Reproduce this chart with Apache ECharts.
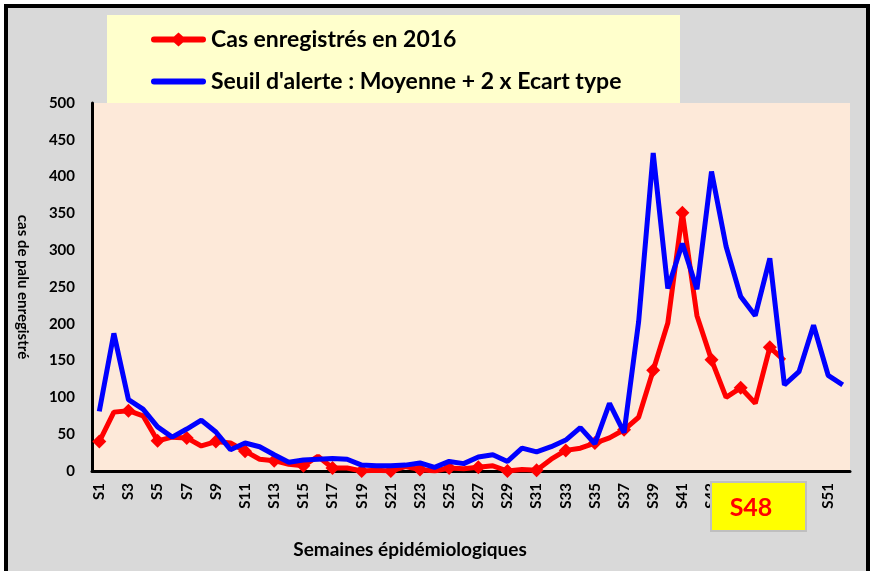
<!DOCTYPE html>
<html>
<head>
<meta charset="utf-8">
<script src="https://cdn.jsdelivr.net/npm/echarts@6/dist/echarts.min.js"></script>
<style>
  html, body { margin: 0; padding: 0; background: #ffffff; }
  #frame { position: absolute; left: 4px; top: 4px; width: 858px; height: 600px; border: 4px solid #000; background: #d9d9d9; }
  #chart { position: absolute; left: 0; top: 0; width: 870px; height: 571px; }
</style>
</head>
<body>
<div id="frame"></div>
<div id="chart"></div>
<script>
const weeks = Array.from({length: 52}, (_, i) => 'S' + (i + 1));
const cas2016 = [40, 80, 82, 75, 41, 46, 45, 34, 40, 38, 27, 16, 14, 9, 7, 20, 4, 4, 0, 1,
  0, 6, 2, 0, 4, 3, 5, 7, 0, 2, 1, 16, 28, 31, 38, 45, 56, 73, 137, 201,
  351, 211, 151, 100, 113, 92, 168, 150, null, null, null, null];
const seuil = [81, 187, 97, 84, 60, 46, 57, 69, 53, 29, 38, 33, 22, 12, 15, 16, 17, 16, 8, 7,
  7, 8, 11, 5, 13, 10, 19, 22, 13, 31, 26, 33, 42, 59, 37, 92, 52, 203, 432, 248,
  309, 247, 407, 305, 237, 211, 289, 117, 135, 198, 130, 117];
const seriesNames = ['Cas enregistrés en 2016', "Seuil d'alerte : Moyenne + 2 x Ecart type"];
const currentWeek = 'S48';

const FONT = 'Lato, "Open Sans", sans-serif';
const redIcon = 'path://M3,4 L23,4 L27.5,0 L32,4 L52,4 A3,3 0 0 1 52,10 L32,10 L27.5,14 L23,10 L3,10 A3,3 0 0 1 3,4 Z';
const blueIcon = 'path://M3,0 L52,0 A3,3 0 0 1 52,6 L3,6 A3,3 0 0 1 3,0 Z';

const chart = echarts.init(document.getElementById('chart'), null, {renderer: 'canvas'});
chart.setOption({
  backgroundColor: 'transparent',
  animation: false,
  textStyle: {fontFamily: FONT},
  grid: {left: 92, right: 20, top: 103, bottom: 100, show: true, backgroundColor: '#fde9d9', borderWidth: 0},
  legend: {
    orient: 'vertical', left: 146, top: 23,
    itemWidth: 55, itemHeight: 14, itemGap: 19,
    textStyle: {fontFamily: FONT, fontWeight: 'bold', fontSize: 23, color: '#000'},
    data: [
      {name: seriesNames[0], icon: redIcon, itemStyle: {color: '#ff0000'}},
      {name: seriesNames[1], icon: blueIcon, itemStyle: {color: '#0000ff'}}
    ]
  },
  xAxis: {
    type: 'category', data: weeks, boundaryGap: true,
    axisLine: {lineStyle: {color: '#000', width: 3}},
    axisTick: {show: false},
    axisLabel: {interval: 1, rotate: 90, margin: 12, color: '#000', fontWeight: 'bold', fontSize: 15, fontFamily: FONT},
    splitLine: {show: false}
  },
  yAxis: {
    type: 'value', min: 0, max: 500, interval: 50,
    name: 'cas de palu enregistré', nameLocation: 'middle', nameRotate: -90, nameGap: 62,
    nameTextStyle: {color: '#000', fontWeight: 'bold', fontSize: 15, fontFamily: FONT},
    axisLine: {show: true, lineStyle: {color: '#000', width: 3}},
    axisTick: {show: false},
    axisLabel: {margin: 17, color: '#000', fontWeight: 'bold', fontSize: 15, fontFamily: FONT},
    splitLine: {show: false}
  },
  graphic: [
    {type: 'rect', z: 0, shape: {x: 107, y: 15, width: 573, height: 88}, style: {fill: '#ffffcc'}},
    {type: 'text', z: 10, style: {text: 'Semaines épidémiologiques', x: 410, y: 550, textAlign: 'center', textVerticalAlign: 'middle', font: 'bold 19px ' + FONT, fill: '#000'}},
    {type: 'rect', z: 100, shape: {x: 711, y: 482, width: 95, height: 49}, style: {fill: '#ffff00', stroke: '#bfbfbf', lineWidth: 2}},
    {type: 'text', z: 101, style: {text: currentWeek, x: 751, y: 508, textAlign: 'center', textVerticalAlign: 'middle', font: 'bold 25px ' + FONT, fill: '#ff0000'}}
  ],
  series: [
    {name: seriesNames[0], type: 'line', data: cas2016, symbol: 'diamond', symbolSize: 14,
     lineStyle: {color: '#ff0000', width: 5}, itemStyle: {color: '#ff0000'}, z: 2},
    {name: seriesNames[1], type: 'line', data: seuil, symbol: 'none',
     lineStyle: {color: '#0000ff', width: 5}, itemStyle: {color: '#0000ff'}, z: 3}
  ]
});
</script>
</body>
</html>
